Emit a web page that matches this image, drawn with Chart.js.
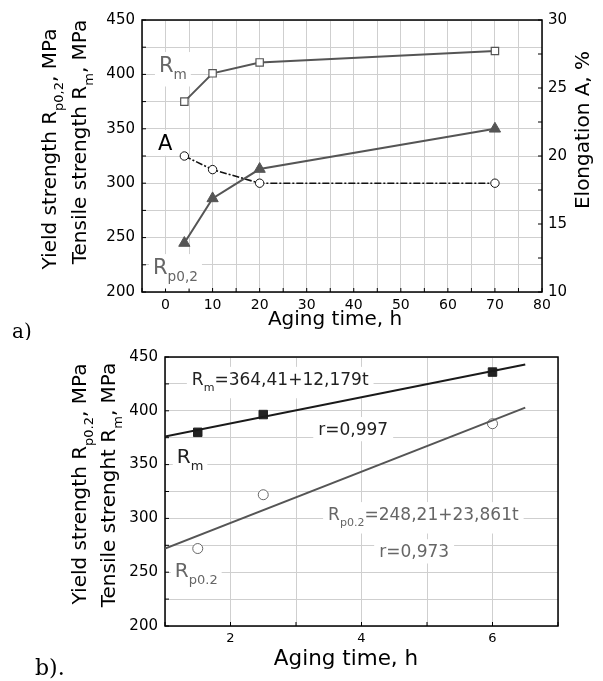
<!DOCTYPE html>
<html><head><meta charset="utf-8">
<script src="https://cdn.jsdelivr.net/npm/chart.js@4/dist/chart.umd.min.js"></script>
<style>
html,body{margin:0;padding:0;background:#fff;width:603px;height:681px;overflow:hidden}
canvas{position:absolute;left:0}
#ca{top:0}
#cb{top:340px}
</style></head>
<body>
<canvas id="ca" width="603" height="340"></canvas>
<canvas id="cb" width="603" height="341"></canvas>
<script>
// ---------- Panel a) data ----------
const agingTimeA = [4, 10, 20, 70];
const tensileA = [375, 401, 411, 421.5];      // Rm, MPa
const yieldA = [245, 286, 313, 350];          // Rp0,2, MPa
const elongationA = [20, 19, 18, 18];         // A, %
const xTickLabelsA = [0, 10, 20, 30, 40, 50, 60, 70, 80];
const yTickLabels = [200, 250, 300, 350, 400, 450];
const y2TickLabelsA = [10, 15, 20, 25, 30];

// ---------- Panel b) data ----------
const agingTimeB = [1.5, 2.5, 6];
const tensileB = [380, 396.5, 436];
const yieldB = [272, 322, 388];
const fitTimeB = [1, 6.5];
const tensileFitB = [376, 443];
const yieldFitB = [272, 403];
const xTickLabelsB = [2, 4, 6];

const SANS = "'DejaVu Sans'";
const SERIF = "'DejaVu Serif'";
function fnt(size, fam) { return size + "px " + (fam || SANS); }
function pts(xs, ys) { return xs.map((x, i) => ({ x: x, y: ys[i] })); }

function richWidth(ctx, parts, size, fam) {
  let w = 0;
  for (const [t, sub] of parts) { ctx.font = fnt(sub ? size * 0.65 : size, fam); w += ctx.measureText(t).width; }
  return w;
}
function drawRich(ctx, parts, x, y, size, color, align, fam) {
  const w = richWidth(ctx, parts, size, fam);
  let cx = align === 'center' ? x - w / 2 : x;
  ctx.fillStyle = color; ctx.textBaseline = 'alphabetic'; ctx.textAlign = 'left';
  for (const [t, sub] of parts) {
    ctx.font = fnt(sub ? size * 0.65 : size, fam);
    ctx.fillText(t, cx, sub ? y + size * 0.34 : y);
    cx += ctx.measureText(t).width;
  }
}
function drawBox(ctx, parts, x, y, size, pad) {
  const w = richWidth(ctx, parts, size);
  const hasSub = parts.some(p => p[1]);
  const top = y - size * 0.76 - pad;
  const bottom = y + (hasSub ? size * 0.5 : size * 0.08) + pad;
  ctx.fillStyle = '#fff';
  ctx.fillRect(x - pad, top, w + 2 * pad, bottom - top);
}

const decor = {
  id: 'decor',
  beforeDatasetsDraw(chart, args, o) {
    const ctx = chart.ctx, a = chart.chartArea;
    ctx.save();
    ctx.strokeStyle = '#000'; ctx.lineWidth = 1;
    for (const id of Object.keys(chart.scales)) {
      const s = chart.scales[id];
      for (const t of s.ticks) {
        const p = s.getPixelForValue(t.value);
        ctx.beginPath();
        if (s.position === 'bottom') { ctx.moveTo(p, a.bottom); ctx.lineTo(p, a.bottom - 4); }
        else if (s.position === 'left') { ctx.moveTo(a.left, p); ctx.lineTo(a.left + 4, p); }
        else if (s.position === 'right') { ctx.moveTo(a.right, p); ctx.lineTo(a.right - 4, p); }
        ctx.stroke();
      }
    }
    for (const L of o.labels) {
      const px = chart.scales.x.getPixelForValue(L.x);
      const py = chart.scales[L.axis || 'y'].getPixelForValue(L.y);
      drawBox(ctx, L.parts, px, py, L.size, L.pad);
      drawRich(ctx, L.parts, px, py, L.size, L.color, 'left');
    }
    ctx.strokeStyle = '#000'; ctx.lineWidth = 1.5;
    ctx.strokeRect(a.left, a.top, a.right - a.left, a.bottom - a.top);
    ctx.restore();
  },
  afterDraw(chart, args, o) {
    const ctx = chart.ctx;
    ctx.save();
    for (const T of o.titles) {
      ctx.save();
      ctx.translate(T.x, T.y);
      if (T.rot) ctx.rotate(T.rot);
      drawRich(ctx, T.parts, 0, 0, T.size, T.color || '#000', T.align || 'center', T.fam);
      ctx.restore();
    }
    ctx.restore();
  }
};

const gridCol = '#cfcfcf';

// ---------------- Chart a ----------------
new Chart(document.getElementById('ca'), {
  type: 'line',
  data: {
    datasets: [
      { data: pts(agingTimeA, tensileA), yAxisID: 'y', borderColor: '#555', borderWidth: 2,
        pointStyle: 'rect', pointRadius: 5.2, pointBackgroundColor: '#fff', pointBorderColor: '#555', pointBorderWidth: 1.2 },
      { data: pts(agingTimeA, yieldA), yAxisID: 'y', borderColor: '#555', borderWidth: 2,
        pointStyle: 'triangle', pointRadius: 6.5, pointBackgroundColor: '#555', pointBorderColor: '#555', pointBorderWidth: 1 },
      { data: pts(agingTimeA, elongationA), yAxisID: 'y2', borderColor: '#111', borderWidth: 1.6, borderDash: [7, 2, 2, 2],
        pointStyle: 'circle', pointRadius: 4.2, pointBackgroundColor: '#fff', pointBorderColor: '#111', pointBorderWidth: 1 }
    ]
  },
  options: {
    responsive: false, animation: false, devicePixelRatio: 1,
    layout: { padding: { top: 20, left: 0, right: 0, bottom: 0 } },
    plugins: {
      legend: { display: false }, tooltip: { enabled: false },
      decor: {
        labels: [
          { x: -1.4, y: 402.2, parts: [['R'], ['m', 1]], size: 21, color: '#666', pad: 4 },
          { x: -1.6, y: 330.5, parts: [['A']], size: 21, color: '#000', pad: 4 },
          { x: -2.66, y: 216.5, parts: [['R'], ['p0,2', 1]], size: 21, color: '#666', pad: 4 }
        ],
        titles: [
          { parts: [['Aging time, h']], x: 335, y: 325, size: 20 },
          { parts: [['Yield strength R'], ['p0,2', 1], [', MPa']], x: 56, y: 149, size: 20, rot: -Math.PI / 2 },
          { parts: [['Tensile strength R'], ['m', 1], [', MPa']], x: 86, y: 142, size: 20, rot: -Math.PI / 2 },
          { parts: [['Elongation A, %']], x: 589, y: 130, size: 20, rot: -Math.PI / 2 },
          { parts: [['a)']], x: 12, y: 338, size: 20, align: 'left', fam: SERIF }
        ]
      }
    },
    scales: {
      x: {
        type: 'linear', position: 'bottom', min: -5, max: 80,
        ticks: { stepSize: 5, autoSkip: false, maxRotation: 0, padding: 5, color: '#000', font: { family: 'DejaVu Sans', size: 14 },
          callback: v => xTickLabelsA.includes(v) ? String(v) : '' },
        grid: { color: gridCol, lineWidth: 1, drawTicks: false }, border: { display: false },
        afterFit(s) { s.height = 48; }
      },
      y: {
        position: 'left', min: 200, max: 450,
        ticks: { stepSize: 25, autoSkip: false, padding: 7, color: '#000', font: { family: 'DejaVu Sans', size: 15 },
          callback: v => yTickLabels.includes(v) ? String(v) : '' },
        grid: { color: gridCol, lineWidth: 1, drawTicks: false }, border: { display: false },
        afterFit(s) { s.width = 142; }
      },
      y2: {
        position: 'right', min: 10, max: 30,
        ticks: { stepSize: 2.5, autoSkip: false, padding: 6, color: '#000', font: { family: 'DejaVu Sans', size: 15 },
          callback: v => y2TickLabelsA.includes(v) ? String(v) : '' },
        grid: { display: false, drawTicks: false }, border: { display: false },
        afterFit(s) { s.width = 61; }
      }
    }
  },
  plugins: [decor]
});

// ---------------- Chart b ----------------
new Chart(document.getElementById('cb'), {
  type: 'line',
  data: {
    datasets: [
      { data: pts(fitTimeB, tensileFitB), borderColor: '#1a1a1a', borderWidth: 2, pointRadius: 0 },
      { data: pts(fitTimeB, yieldFitB), borderColor: '#555', borderWidth: 2, pointRadius: 0 },
      { data: pts(agingTimeB, tensileB), showLine: false, pointStyle: 'rect', pointRadius: 6,
        pointBackgroundColor: '#222', pointBorderColor: '#222', pointBorderWidth: 1 },
      { data: pts(agingTimeB, yieldB), showLine: false, pointStyle: 'circle', pointRadius: 5,
        pointBackgroundColor: '#fff', pointBorderColor: '#666', pointBorderWidth: 1 }
    ]
  },
  options: {
    responsive: false, animation: false, devicePixelRatio: 1,
    layout: { padding: { top: 17, left: 0, right: 45, bottom: 0 } },
    plugins: {
      legend: { display: false }, tooltip: { enabled: false },
      decor: {
        labels: [
          { x: 1.41, y: 424.2, parts: [['R'], ['m', 1], ['=364,41+12,179t']], size: 17, color: '#222', pad: 5 },
          { x: 3.34, y: 377.6, parts: [['r=0,997']], size: 17, color: '#222', pad: 5 },
          { x: 1.18, y: 351.5, parts: [['R'], ['m', 1]], size: 20, color: '#222', pad: 4 },
          { x: 3.49, y: 298.5, parts: [['R'], ['p0.2', 1], ['=248,21+23,861t']], size: 17, color: '#666', pad: 5 },
          { x: 4.27, y: 264, parts: [['r=0,973']], size: 17, color: '#666', pad: 5 },
          { x: 1.15, y: 245.4, parts: [['R'], ['p0.2', 1]], size: 20, color: '#666', pad: 4 }
        ],
        titles: [
          { parts: [['Aging time, h']], x: 346, y: 325, size: 21.5 },
          { parts: [['Yield strength R'], ['p0.2', 1], [', MPa']], x: 86, y: 144, size: 20, rot: -Math.PI / 2 },
          { parts: [['Tensile strenght R'], ['m', 1], [', MPa']], x: 115, y: 145, size: 20, rot: -Math.PI / 2 },
          { parts: [['b).']], x: 35, y: 335, size: 22, align: 'left', fam: SERIF }
        ]
      }
    },
    scales: {
      x: {
        type: 'linear', position: 'bottom', min: 1, max: 7,
        ticks: { stepSize: 1, autoSkip: false, maxRotation: 0, padding: 5, color: '#000', font: { family: 'DejaVu Sans', size: 13 },
          callback: v => xTickLabelsB.includes(v) ? String(v) : '' },
        grid: { color: gridCol, lineWidth: 1, drawTicks: false }, border: { display: false },
        afterFit(s) { s.height = 55; }
      },
      y: {
        position: 'left', min: 200, max: 450,
        ticks: { stepSize: 25, autoSkip: false, padding: 7, color: '#000', font: { family: 'DejaVu Sans', size: 15 },
          callback: v => yTickLabels.includes(v) ? String(v) : '' },
        grid: { color: gridCol, lineWidth: 1, drawTicks: false }, border: { display: false },
        afterFit(s) { s.width = 165; }
      }
    }
  },
  plugins: [decor]
});
</script>
</body></html>
